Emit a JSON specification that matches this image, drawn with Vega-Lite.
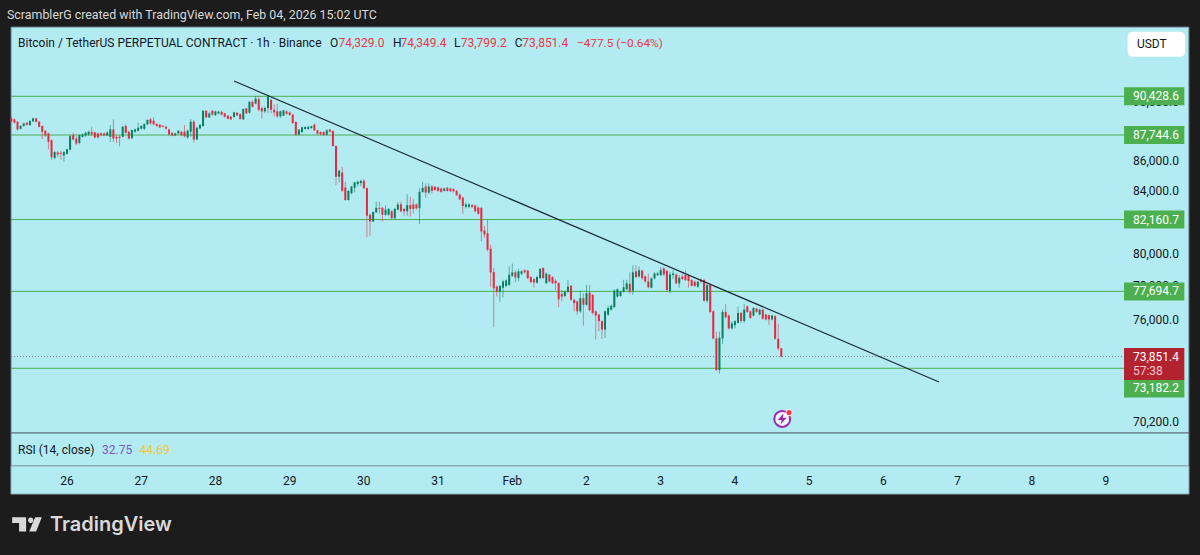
{
  "$schema": "https://vega.github.io/schema/vega-lite/v6.json",
  "description": "BTCUSDT perpetual 1h candles with hand drawn levels and a falling trendline",
  "background": "#1c1c1c",
  "padding": 0,
  "spacing": 0,
  "bounds": "flush",
  "data": {"values": [{}]},
  "datasets": {
    "candles": [
      {"t":"2026-01-25T06:00Z","o":88888,"h":88957,"l":88589,"c":88681},
      {"t":"2026-01-25T07:00Z","o":88819,"h":88865,"l":88543,"c":88589},
      {"t":"2026-01-25T08:00Z","o":88658,"h":88704,"l":88037,"c":88129},
      {"t":"2026-01-25T09:00Z","o":88175,"h":88428,"l":88129,"c":88359},
      {"t":"2026-01-25T10:00Z","o":88359,"h":88589,"l":88313,"c":88543},
      {"t":"2026-01-25T11:00Z","o":88589,"h":88635,"l":88382,"c":88451},
      {"t":"2026-01-25T12:00Z","o":88428,"h":88773,"l":88382,"c":88704},
      {"t":"2026-01-25T13:00Z","o":88681,"h":88934,"l":88635,"c":88888},
      {"t":"2026-01-25T14:00Z","o":88888,"h":88934,"l":88589,"c":88658},
      {"t":"2026-01-25T15:00Z","o":88658,"h":88704,"l":88267,"c":88313},
      {"t":"2026-01-25T16:00Z","o":88359,"h":88405,"l":87462,"c":87968},
      {"t":"2026-01-25T17:00Z","o":88037,"h":88083,"l":87623,"c":87738},
      {"t":"2026-01-25T18:00Z","o":87853,"h":87899,"l":86772,"c":87278},
      {"t":"2026-01-25T19:00Z","o":87393,"h":87439,"l":86059,"c":86243},
      {"t":"2026-01-25T20:00Z","o":86197,"h":86657,"l":86105,"c":86588},
      {"t":"2026-01-25T21:00Z","o":86565,"h":86657,"l":86243,"c":86427},
      {"t":"2026-01-25T22:00Z","o":86542,"h":86657,"l":86082,"c":86473},
      {"t":"2026-01-25T23:00Z","o":86358,"h":86657,"l":85944,"c":86588},
      {"t":"2026-01-26T00:00Z","o":86473,"h":86818,"l":86427,"c":86772},
      {"t":"2026-01-26T01:00Z","o":86749,"h":87738,"l":86703,"c":87669},
      {"t":"2026-01-26T02:00Z","o":87738,"h":87899,"l":87393,"c":87439},
      {"t":"2026-01-26T03:00Z","o":87508,"h":87669,"l":87048,"c":87163},
      {"t":"2026-01-26T04:00Z","o":87209,"h":87784,"l":87117,"c":87738},
      {"t":"2026-01-26T05:00Z","o":87623,"h":87853,"l":87554,"c":87784},
      {"t":"2026-01-26T06:00Z","o":87715,"h":87968,"l":87623,"c":87899},
      {"t":"2026-01-26T07:00Z","o":87784,"h":88037,"l":87692,"c":87968},
      {"t":"2026-01-26T08:00Z","o":87945,"h":88313,"l":87715,"c":87807},
      {"t":"2026-01-26T09:00Z","o":87922,"h":87968,"l":87508,"c":87577},
      {"t":"2026-01-26T10:00Z","o":87853,"h":87899,"l":87508,"c":87577},
      {"t":"2026-01-26T11:00Z","o":87853,"h":87922,"l":87669,"c":87738},
      {"t":"2026-01-26T12:00Z","o":87853,"h":87922,"l":87669,"c":87715},
      {"t":"2026-01-26T13:00Z","o":87715,"h":87991,"l":87669,"c":87922},
      {"t":"2026-01-26T14:00Z","o":87623,"h":88428,"l":87278,"c":88129},
      {"t":"2026-01-26T15:00Z","o":88129,"h":88819,"l":87278,"c":87508},
      {"t":"2026-01-26T16:00Z","o":87623,"h":87738,"l":87209,"c":87508},
      {"t":"2026-01-26T17:00Z","o":87623,"h":87738,"l":86979,"c":87554},
      {"t":"2026-01-26T18:00Z","o":87623,"h":88382,"l":87577,"c":88313},
      {"t":"2026-01-26T19:00Z","o":88359,"h":88474,"l":87853,"c":87899},
      {"t":"2026-01-26T20:00Z","o":87968,"h":88037,"l":87439,"c":87508},
      {"t":"2026-01-26T21:00Z","o":87531,"h":88129,"l":87462,"c":88083},
      {"t":"2026-01-26T22:00Z","o":87968,"h":88198,"l":87899,"c":88129},
      {"t":"2026-01-26T23:00Z","o":88037,"h":88589,"l":87968,"c":88244},
      {"t":"2026-01-27T00:00Z","o":88175,"h":88428,"l":88129,"c":88359},
      {"t":"2026-01-27T01:00Z","o":88175,"h":88543,"l":88083,"c":88497},
      {"t":"2026-01-27T02:00Z","o":88474,"h":88819,"l":88428,"c":88773},
      {"t":"2026-01-27T03:00Z","o":88819,"h":88934,"l":88474,"c":88543},
      {"t":"2026-01-27T04:00Z","o":88727,"h":88957,"l":88428,"c":88474},
      {"t":"2026-01-27T05:00Z","o":88497,"h":88543,"l":88313,"c":88359},
      {"t":"2026-01-27T06:00Z","o":88451,"h":88497,"l":88221,"c":88267},
      {"t":"2026-01-27T07:00Z","o":88382,"h":88428,"l":88267,"c":88313},
      {"t":"2026-01-27T08:00Z","o":88313,"h":88359,"l":88129,"c":88175},
      {"t":"2026-01-27T09:00Z","o":88129,"h":88175,"l":87715,"c":87784},
      {"t":"2026-01-27T10:00Z","o":87899,"h":87945,"l":87669,"c":87715},
      {"t":"2026-01-27T11:00Z","o":87715,"h":87899,"l":87669,"c":87853},
      {"t":"2026-01-27T12:00Z","o":87853,"h":88083,"l":87784,"c":88037},
      {"t":"2026-01-27T13:00Z","o":87968,"h":88014,"l":87669,"c":87738},
      {"t":"2026-01-27T14:00Z","o":87968,"h":88428,"l":87577,"c":87669},
      {"t":"2026-01-27T15:00Z","o":87577,"h":88129,"l":87485,"c":88037},
      {"t":"2026-01-27T16:00Z","o":87968,"h":88842,"l":87623,"c":88658},
      {"t":"2026-01-27T17:00Z","o":88658,"h":88773,"l":87232,"c":87439},
      {"t":"2026-01-27T18:00Z","o":87439,"h":88313,"l":87393,"c":88244},
      {"t":"2026-01-27T19:00Z","o":88198,"h":88497,"l":88129,"c":88428},
      {"t":"2026-01-27T20:00Z","o":88359,"h":89463,"l":88313,"c":89417},
      {"t":"2026-01-27T21:00Z","o":89417,"h":89463,"l":88911,"c":88957},
      {"t":"2026-01-27T22:00Z","o":88957,"h":89302,"l":88911,"c":89233},
      {"t":"2026-01-27T23:00Z","o":89417,"h":89463,"l":89072,"c":89141},
      {"t":"2026-01-28T00:00Z","o":89118,"h":89417,"l":89049,"c":89371},
      {"t":"2026-01-28T01:00Z","o":89233,"h":89417,"l":89164,"c":89348},
      {"t":"2026-01-28T02:00Z","o":89348,"h":89417,"l":89095,"c":89141},
      {"t":"2026-01-28T03:00Z","o":89233,"h":89279,"l":88957,"c":89003},
      {"t":"2026-01-28T04:00Z","o":89072,"h":89118,"l":88819,"c":88865},
      {"t":"2026-01-28T05:00Z","o":89003,"h":89049,"l":88773,"c":88819},
      {"t":"2026-01-28T06:00Z","o":88980,"h":89348,"l":88934,"c":89302},
      {"t":"2026-01-28T07:00Z","o":89279,"h":89325,"l":89049,"c":89095},
      {"t":"2026-01-28T08:00Z","o":89187,"h":89233,"l":88796,"c":88842},
      {"t":"2026-01-28T09:00Z","o":88819,"h":89578,"l":88773,"c":89532},
      {"t":"2026-01-28T10:00Z","o":89578,"h":89624,"l":89187,"c":89233},
      {"t":"2026-01-28T11:00Z","o":89279,"h":90084,"l":89233,"c":90038},
      {"t":"2026-01-28T12:00Z","o":90038,"h":90153,"l":89647,"c":89693},
      {"t":"2026-01-28T13:00Z","o":89923,"h":90452,"l":89877,"c":90268},
      {"t":"2026-01-28T14:00Z","o":90222,"h":90405,"l":89373,"c":89488},
      {"t":"2026-01-28T15:00Z","o":89602,"h":89717,"l":88868,"c":89373},
      {"t":"2026-01-28T16:00Z","o":89373,"h":89717,"l":89258,"c":89602},
      {"t":"2026-01-28T17:00Z","o":89602,"h":90520,"l":89258,"c":90405},
      {"t":"2026-01-28T18:00Z","o":90176,"h":90268,"l":89258,"c":89488},
      {"t":"2026-01-28T19:00Z","o":89488,"h":89832,"l":89029,"c":89304},
      {"t":"2026-01-28T20:00Z","o":89373,"h":89900,"l":88937,"c":89029},
      {"t":"2026-01-28T21:00Z","o":89029,"h":89442,"l":88914,"c":89373},
      {"t":"2026-01-28T22:00Z","o":89075,"h":89488,"l":89029,"c":89442},
      {"t":"2026-01-28T23:00Z","o":89373,"h":89442,"l":89143,"c":89212},
      {"t":"2026-01-29T00:00Z","o":89304,"h":89373,"l":89075,"c":89120},
      {"t":"2026-01-29T01:00Z","o":89143,"h":89212,"l":88501,"c":88570},
      {"t":"2026-01-29T02:00Z","o":88639,"h":88685,"l":87700,"c":87767},
      {"t":"2026-01-29T03:00Z","o":87767,"h":88157,"l":87722,"c":88111},
      {"t":"2026-01-29T04:00Z","o":87950,"h":88318,"l":87882,"c":88272},
      {"t":"2026-01-29T05:00Z","o":88157,"h":88341,"l":88111,"c":88295},
      {"t":"2026-01-29T06:00Z","o":88157,"h":88387,"l":88111,"c":88295},
      {"t":"2026-01-29T07:00Z","o":88226,"h":88387,"l":88157,"c":88341},
      {"t":"2026-01-29T08:00Z","o":88455,"h":88524,"l":88019,"c":88065},
      {"t":"2026-01-29T09:00Z","o":88065,"h":88111,"l":87767,"c":87836},
      {"t":"2026-01-29T10:00Z","o":87950,"h":87996,"l":87722,"c":87790},
      {"t":"2026-01-29T11:00Z","o":87950,"h":87996,"l":87700,"c":87744},
      {"t":"2026-01-29T12:00Z","o":87767,"h":88157,"l":87700,"c":88065},
      {"t":"2026-01-29T13:00Z","o":88111,"h":88157,"l":87927,"c":87974},
      {"t":"2026-01-29T14:00Z","o":88019,"h":88065,"l":86950,"c":86994},
      {"t":"2026-01-29T15:00Z","o":86994,"h":87038,"l":84389,"c":84941},
      {"t":"2026-01-29T16:00Z","o":84941,"h":85405,"l":84566,"c":85338},
      {"t":"2026-01-29T17:00Z","o":85228,"h":85603,"l":83970,"c":84014},
      {"t":"2026-01-29T18:00Z","o":84235,"h":84610,"l":83374,"c":83418},
      {"t":"2026-01-29T19:00Z","o":83418,"h":84058,"l":83374,"c":84014},
      {"t":"2026-01-29T20:00Z","o":83860,"h":84345,"l":83793,"c":84301},
      {"t":"2026-01-29T21:00Z","o":84213,"h":84610,"l":83904,"c":84566},
      {"t":"2026-01-29T22:00Z","o":84456,"h":84676,"l":84301,"c":84610},
      {"t":"2026-01-29T23:00Z","o":84522,"h":84743,"l":84345,"c":84676},
      {"t":"2026-01-30T00:00Z","o":84676,"h":84786,"l":84125,"c":84191},
      {"t":"2026-01-30T01:00Z","o":84191,"h":84235,"l":81047,"c":82403},
      {"t":"2026-01-30T02:00Z","o":82469,"h":82535,"l":81131,"c":82034},
      {"t":"2026-01-30T03:00Z","o":82034,"h":82690,"l":81992,"c":82646},
      {"t":"2026-01-30T04:00Z","o":82623,"h":83308,"l":82579,"c":82910},
      {"t":"2026-01-30T05:00Z","o":82910,"h":83308,"l":82535,"c":82844},
      {"t":"2026-01-30T06:00Z","o":82910,"h":82976,"l":82034,"c":82469},
      {"t":"2026-01-30T07:00Z","o":82469,"h":83087,"l":82403,"c":82800},
      {"t":"2026-01-30T08:00Z","o":82469,"h":82910,"l":82403,"c":82844},
      {"t":"2026-01-30T09:00Z","o":82690,"h":82756,"l":82139,"c":82248},
      {"t":"2026-01-30T10:00Z","o":82248,"h":82910,"l":82182,"c":82844},
      {"t":"2026-01-30T11:00Z","o":82800,"h":83286,"l":82734,"c":83131},
      {"t":"2026-01-30T12:00Z","o":83131,"h":83308,"l":82623,"c":82690},
      {"t":"2026-01-30T13:00Z","o":82844,"h":82910,"l":82403,"c":82690},
      {"t":"2026-01-30T14:00Z","o":82690,"h":83793,"l":82403,"c":83087},
      {"t":"2026-01-30T15:00Z","o":83087,"h":83639,"l":82359,"c":82844},
      {"t":"2026-01-30T16:00Z","o":83131,"h":83462,"l":82535,"c":82844},
      {"t":"2026-01-30T17:00Z","o":83131,"h":83197,"l":82800,"c":82888},
      {"t":"2026-01-30T18:00Z","o":82888,"h":84191,"l":81866,"c":83948},
      {"t":"2026-01-30T19:00Z","o":83948,"h":84610,"l":83904,"c":84213},
      {"t":"2026-01-30T20:00Z","o":84301,"h":84500,"l":83573,"c":83904},
      {"t":"2026-01-30T21:00Z","o":83904,"h":84500,"l":83793,"c":84301},
      {"t":"2026-01-30T22:00Z","o":84301,"h":84389,"l":83860,"c":84014},
      {"t":"2026-01-30T23:00Z","o":84279,"h":84345,"l":84014,"c":84080},
      {"t":"2026-01-31T00:00Z","o":84235,"h":84301,"l":83948,"c":84014},
      {"t":"2026-01-31T01:00Z","o":84169,"h":84235,"l":83904,"c":83948},
      {"t":"2026-01-31T02:00Z","o":84014,"h":84235,"l":83970,"c":84169},
      {"t":"2026-01-31T03:00Z","o":84213,"h":84279,"l":83948,"c":84014},
      {"t":"2026-01-31T04:00Z","o":84169,"h":84213,"l":83948,"c":83992},
      {"t":"2026-01-31T05:00Z","o":84125,"h":84191,"l":83904,"c":83992},
      {"t":"2026-01-31T06:00Z","o":84014,"h":84080,"l":83683,"c":83727},
      {"t":"2026-01-31T07:00Z","o":83771,"h":83837,"l":83418,"c":83462},
      {"t":"2026-01-31T08:00Z","o":83573,"h":83639,"l":82535,"c":83021},
      {"t":"2026-01-31T09:00Z","o":82977,"h":83264,"l":82866,"c":83131},
      {"t":"2026-01-31T10:00Z","o":82977,"h":83220,"l":82888,"c":83131},
      {"t":"2026-01-31T11:00Z","o":83087,"h":83153,"l":82888,"c":82977},
      {"t":"2026-01-31T12:00Z","o":83065,"h":83131,"l":82623,"c":82690},
      {"t":"2026-01-31T13:00Z","o":82933,"h":82999,"l":82469,"c":82535},
      {"t":"2026-01-31T14:00Z","o":82910,"h":82976,"l":80774,"c":81404},
      {"t":"2026-01-31T15:00Z","o":81467,"h":81761,"l":80984,"c":81215},
      {"t":"2026-01-31T16:00Z","o":81292,"h":82160,"l":80155,"c":80258},
      {"t":"2026-01-31T17:00Z","o":80320,"h":80568,"l":77943,"c":78853},
      {"t":"2026-01-31T18:00Z","o":78873,"h":79122,"l":75559,"c":77881},
      {"t":"2026-01-31T19:00Z","o":77984,"h":78046,"l":77381,"c":77675},
      {"t":"2026-01-31T20:00Z","o":77675,"h":78087,"l":77048,"c":78025},
      {"t":"2026-01-31T21:00Z","o":77922,"h":78398,"l":77323,"c":78295},
      {"t":"2026-01-31T22:00Z","o":78026,"h":78440,"l":77943,"c":78357},
      {"t":"2026-01-31T23:00Z","o":78088,"h":79225,"l":78026,"c":78708},
      {"t":"2026-02-01T00:00Z","o":78646,"h":79390,"l":78563,"c":78853},
      {"t":"2026-02-01T01:00Z","o":78853,"h":78977,"l":78233,"c":78543},
      {"t":"2026-02-01T02:00Z","o":78501,"h":79060,"l":78295,"c":78915},
      {"t":"2026-02-01T03:00Z","o":78770,"h":78977,"l":78687,"c":78915},
      {"t":"2026-02-01T04:00Z","o":78977,"h":79039,"l":78770,"c":78853},
      {"t":"2026-02-01T05:00Z","o":78956,"h":79018,"l":78439,"c":78501},
      {"t":"2026-02-01T06:00Z","o":78563,"h":78625,"l":78191,"c":78253},
      {"t":"2026-02-01T07:00Z","o":78439,"h":78501,"l":77922,"c":78232},
      {"t":"2026-02-01T08:00Z","o":78232,"h":78646,"l":78150,"c":78563},
      {"t":"2026-02-01T09:00Z","o":78501,"h":79122,"l":78439,"c":79060},
      {"t":"2026-02-01T10:00Z","o":79122,"h":79184,"l":78439,"c":78501},
      {"t":"2026-02-01T11:00Z","o":78191,"h":78853,"l":78129,"c":78770},
      {"t":"2026-02-01T12:00Z","o":78708,"h":78770,"l":78232,"c":78295},
      {"t":"2026-02-01T13:00Z","o":78563,"h":78625,"l":78129,"c":78191},
      {"t":"2026-02-01T14:00Z","o":78336,"h":78440,"l":77778,"c":78191},
      {"t":"2026-02-01T15:00Z","o":78191,"h":78253,"l":76754,"c":77225},
      {"t":"2026-02-01T16:00Z","o":77538,"h":77778,"l":77087,"c":77381},
      {"t":"2026-02-01T17:00Z","o":77420,"h":77736,"l":77342,"c":77675},
      {"t":"2026-02-01T18:00Z","o":77675,"h":78398,"l":77577,"c":77984},
      {"t":"2026-02-01T19:00Z","o":78026,"h":78088,"l":77127,"c":77185},
      {"t":"2026-02-01T20:00Z","o":77185,"h":77244,"l":76499,"c":76989},
      {"t":"2026-02-01T21:00Z","o":77087,"h":77146,"l":76303,"c":76499},
      {"t":"2026-02-01T22:00Z","o":76499,"h":77736,"l":76401,"c":77283},
      {"t":"2026-02-01T23:00Z","o":77283,"h":77577,"l":75657,"c":76891},
      {"t":"2026-02-02T00:00Z","o":76891,"h":78088,"l":76833,"c":77577},
      {"t":"2026-02-02T01:00Z","o":77617,"h":78088,"l":76499,"c":76558},
      {"t":"2026-02-02T02:00Z","o":77479,"h":77538,"l":76303,"c":76401},
      {"t":"2026-02-02T03:00Z","o":76499,"h":76558,"l":74833,"c":76245},
      {"t":"2026-02-02T04:00Z","o":76303,"h":76362,"l":75323,"c":75911},
      {"t":"2026-02-02T05:00Z","o":75911,"h":75970,"l":74873,"c":75421},
      {"t":"2026-02-02T06:00Z","o":75421,"h":76558,"l":74931,"c":76499},
      {"t":"2026-02-02T07:00Z","o":76303,"h":76833,"l":76205,"c":76695},
      {"t":"2026-02-02T08:00Z","o":76597,"h":76891,"l":76539,"c":76833},
      {"t":"2026-02-02T09:00Z","o":76754,"h":77817,"l":76695,"c":77736},
      {"t":"2026-02-02T10:00Z","o":77381,"h":77881,"l":77323,"c":77819},
      {"t":"2026-02-02T11:00Z","o":77420,"h":77736,"l":77362,"c":77675},
      {"t":"2026-02-02T12:00Z","o":77675,"h":78398,"l":77617,"c":77943},
      {"t":"2026-02-02T13:00Z","o":77819,"h":78398,"l":77778,"c":78191},
      {"t":"2026-02-02T14:00Z","o":78150,"h":78853,"l":77538,"c":77675},
      {"t":"2026-02-02T15:00Z","o":77736,"h":79287,"l":77479,"c":78853},
      {"t":"2026-02-02T16:00Z","o":78915,"h":79287,"l":78501,"c":78563},
      {"t":"2026-02-02T17:00Z","o":78604,"h":79225,"l":78543,"c":78977},
      {"t":"2026-02-02T18:00Z","o":78956,"h":79018,"l":78398,"c":78501},
      {"t":"2026-02-02T19:00Z","o":78604,"h":78666,"l":78232,"c":78295},
      {"t":"2026-02-02T20:00Z","o":78295,"h":78770,"l":77881,"c":77943},
      {"t":"2026-02-02T21:00Z","o":77917,"h":78544,"l":77877,"c":78483},
      {"t":"2026-02-02T22:00Z","o":78483,"h":78847,"l":78422,"c":78786},
      {"t":"2026-02-02T23:00Z","o":78685,"h":78887,"l":78624,"c":78786},
      {"t":"2026-02-03T00:00Z","o":78685,"h":79190,"l":78624,"c":78988},
      {"t":"2026-02-03T01:00Z","o":79089,"h":79190,"l":78644,"c":78725},
      {"t":"2026-02-03T02:00Z","o":78947,"h":79008,"l":77675,"c":77776},
      {"t":"2026-02-03T03:00Z","o":77715,"h":78887,"l":77578,"c":78725},
      {"t":"2026-02-03T04:00Z","o":78685,"h":78988,"l":78442,"c":78786},
      {"t":"2026-02-03T05:00Z","o":78725,"h":78786,"l":78119,"c":78180},
      {"t":"2026-02-03T06:00Z","o":78180,"h":78685,"l":77917,"c":78523},
      {"t":"2026-02-03T07:00Z","o":78584,"h":78786,"l":78382,"c":78442},
      {"t":"2026-02-03T08:00Z","o":78685,"h":78988,"l":78321,"c":78382},
      {"t":"2026-02-03T09:00Z","o":78644,"h":78725,"l":77917,"c":78321},
      {"t":"2026-02-03T10:00Z","o":78382,"h":78442,"l":77978,"c":78038},
      {"t":"2026-02-03T11:00Z","o":78281,"h":78341,"l":77978,"c":78018},
      {"t":"2026-02-03T12:00Z","o":77978,"h":78341,"l":77917,"c":78281},
      {"t":"2026-02-03T13:00Z","o":78422,"h":78483,"l":78200,"c":78281},
      {"t":"2026-02-03T14:00Z","o":78382,"h":78442,"l":77089,"c":77128},
      {"t":"2026-02-03T15:00Z","o":77128,"h":78180,"l":76992,"c":78079},
      {"t":"2026-02-03T16:00Z","o":78079,"h":78180,"l":76405,"c":76464},
      {"t":"2026-02-03T17:00Z","o":76503,"h":76542,"l":74842,"c":74901},
      {"t":"2026-02-03T18:00Z","o":74901,"h":75292,"l":73025,"c":73084},
      {"t":"2026-02-03T19:00Z","o":73084,"h":75292,"l":72888,"c":74940},
      {"t":"2026-02-03T20:00Z","o":74901,"h":76601,"l":74588,"c":76464},
      {"t":"2026-02-03T21:00Z","o":76464,"h":76933,"l":76073,"c":76151},
      {"t":"2026-02-03T22:00Z","o":76249,"h":76308,"l":75428,"c":75487},
      {"t":"2026-02-03T23:00Z","o":75487,"h":75917,"l":75428,"c":75780},
      {"t":"2026-02-04T00:00Z","o":75682,"h":75976,"l":75487,"c":75917},
      {"t":"2026-02-04T01:00Z","o":75819,"h":76796,"l":75780,"c":76405},
      {"t":"2026-02-04T02:00Z","o":76405,"h":76464,"l":75819,"c":75917},
      {"t":"2026-02-04T03:00Z","o":75917,"h":76933,"l":75819,"c":76601},
      {"t":"2026-02-04T04:00Z","o":76796,"h":76855,"l":76405,"c":76464},
      {"t":"2026-02-04T05:00Z","o":76503,"h":76562,"l":76054,"c":76112},
      {"t":"2026-02-04T06:00Z","o":76249,"h":76757,"l":76190,"c":76698},
      {"t":"2026-02-04T07:00Z","o":76659,"h":76718,"l":76405,"c":76464},
      {"t":"2026-02-04T08:00Z","o":76308,"h":76659,"l":76249,"c":76601},
      {"t":"2026-02-04T09:00Z","o":76601,"h":76659,"l":75995,"c":76054},
      {"t":"2026-02-04T10:00Z","o":76308,"h":76366,"l":75956,"c":76015},
      {"t":"2026-02-04T11:00Z","o":76269,"h":76308,"l":75682,"c":76015},
      {"t":"2026-02-04T12:00Z","o":76015,"h":76308,"l":75956,"c":76249},
      {"t":"2026-02-04T13:00Z","o":76210,"h":76269,"l":74823,"c":74881},
      {"t":"2026-02-04T14:00Z","o":74881,"h":75761,"l":74217,"c":74315},
      {"t":"2026-02-04T15:00Z","o":74329,"h":74349.4,"l":73799.2,"c":73851.4}
    ],
    "levels": [
      {"level":90428.6},
      {"level":87744.6},
      {"level":82160.7},
      {"level":77694.7},
      {"level":73182.2}
    ],
    "tags": [
      {"label":"90,428.6","at":90428.6},
      {"label":"87,744.6","at":87744.6},
      {"label":"82,160.7","at":82160.7},
      {"label":"77,694.7","at":77694.7},
      {"label":"73,182.2","at":72041}
    ],
    "priceTicks": [
      {"label":"90,000.0","at":90000},
      {"label":"86,000.0","at":86000},
      {"label":"84,000.0","at":84000},
      {"label":"80,000.0","at":80000},
      {"label":"78,000.0","at":78000},
      {"label":"76,000.0","at":76000},
      {"label":"70,200.0","at":70200}
    ],
    "trend": [
      {"t":"2026-01-28T06:00Z","p":91511},
      {"t":"2026-02-06T18:00Z","p":72407}
    ],
    "days": [
      {"t":"2026-01-26T00:00Z","label":"26"},
      {"t":"2026-01-27T00:00Z","label":"27"},
      {"t":"2026-01-28T00:00Z","label":"28"},
      {"t":"2026-01-29T00:00Z","label":"29"},
      {"t":"2026-01-30T00:00Z","label":"30"},
      {"t":"2026-01-31T00:00Z","label":"31"},
      {"t":"2026-02-01T00:00Z","label":"Feb"},
      {"t":"2026-02-02T00:00Z","label":"2"},
      {"t":"2026-02-03T00:00Z","label":"3"},
      {"t":"2026-02-04T00:00Z","label":"4"},
      {"t":"2026-02-05T00:00Z","label":"5"},
      {"t":"2026-02-06T00:00Z","label":"6"},
      {"t":"2026-02-07T00:00Z","label":"7"},
      {"t":"2026-02-08T00:00Z","label":"8"},
      {"t":"2026-02-09T00:00Z","label":"9"}
    ]
  },
  "vconcat": [
    {
      "width": 1200,
      "height": 27,
      "layer": [
        {
          "mark": {"type": "text", "align": "left", "color": "#d8d8d8", "fontSize": 12.4},
          "encoding": {
            "x": {
              "datum": {"year":2026,"month":"jan","date":25,"hours":4,"minutes":36,"utc":true},
              "type": "temporal",
              "scale": {"domain": [{"year": 2026, "month": "jan", "date": 25, "hours": 2, "minutes": 20, "utc": true}, {"year": 2026, "month": "feb", "date": 10, "hours": 6, "minutes": 24, "utc": true}]}
            },
            "y": {"datum": 0.45, "type": "quantitative", "scale": {"domain": [0, 1]}},
            "text": {"value": "ScramblerG created with TradingView.com, Feb 04, 2026 15:02 UTC"}
          }
        }
      ]
    },
    {
      "width": 1200,
      "height": 406,
      "layer": [
        {
          "mark": {"type": "rect", "fill": "#b2ebf2", "stroke": "#5f737e", "strokeWidth": 1},
          "encoding": {
            "x": {
              "datum": {"year": 2026, "month": "jan", "date": 25, "hours": 5, "minutes": 53, "utc": true},
              "type": "temporal",
              "scale": {"domain": [{"year": 2026, "month": "jan", "date": 25, "hours": 2, "minutes": 20, "utc": true}, {"year": 2026, "month": "feb", "date": 10, "hours": 6, "minutes": 24, "utc": true}]}
            },
            "x2": {"datum": {"year": 2026, "month": "feb", "date": 10, "hours": 2, "minutes": 50, "utc": true}}
          }
        },
        {
          "data": {"name": "levels"},
          "mark": {"type": "rule", "color": "#4caf50", "strokeWidth": 1},
          "encoding": {
            "x": {"datum": {"year": 2026, "month": "jan", "date": 25, "hours": 5, "minutes": 53, "utc": true}, "type": "temporal"},
            "x2": {"datum": {"year": 2026, "month": "feb", "date": 9, "hours": 5, "minutes": 50, "utc": true}},
            "y": {
              "field": "level",
              "type": "quantitative",
              "scale": {"type": "log", "domain": [69589, 95438], "nice": false}
            }
          }
        },
        {
          "mark": {"type": "rule", "color": "#8f7d88", "strokeWidth": 1, "strokeDash": [1, 2]},
          "encoding": {
            "x": {"datum": {"year": 2026, "month": "jan", "date": 25, "hours": 5, "minutes": 53, "utc": true}, "type": "temporal"},
            "x2": {"datum": {"year": 2026, "month": "feb", "date": 9, "hours": 5, "minutes": 50, "utc": true}},
            "y": {"datum": 73851.4, "type": "quantitative"}
          }
        },
        {
          "data": {"name": "candles"},
          "mark": {"type": "rule", "strokeWidth": 1, "opacity": 0.55},
          "encoding": {
            "x": {"field": "t", "type": "temporal"},
            "y": {"field": "l", "type": "quantitative"},
            "y2": {"field": "h"},
            "color": {"condition": {"test": "datum.c >= datum.o", "value": "#087f5f"}, "value": "#e8293f"}
          }
        },
        {
          "data": {"name": "candles"},
          "mark": {"type": "rule", "strokeWidth": 2},
          "encoding": {
            "x": {"field": "t", "type": "temporal"},
            "y": {"field": "o", "type": "quantitative"},
            "y2": {"field": "c"},
            "color": {"condition": {"test": "datum.c >= datum.o", "value": "#087f5f"}, "value": "#e8293f"}
          }
        },
        {
          "data": {"name": "trend"},
          "mark": {"type": "line", "color": "#1b2a33", "strokeWidth": 1.2},
          "encoding": {
            "x": {"field": "t", "type": "temporal"},
            "y": {"field": "p", "type": "quantitative"}
          }
        },
        {
          "data": {"name": "priceTicks"},
          "mark": {"type": "text", "align": "left", "color": "#131722", "font": "Roboto", "fontSize": 12},
          "encoding": {
            "x": {"datum": {"year":2026,"month":"feb","date":9,"hours":8,"minutes":42,"utc":true}, "type": "temporal"},
            "y": {"field": "at", "type": "quantitative"},
            "text": {"field": "label"}
          }
        },
        {
          "data": {"name": "tags"},
          "mark": {"type": "rule", "color": "#4caf50", "strokeWidth": 18},
          "encoding": {
            "x": {"datum": {"year": 2026, "month": "feb", "date": 9, "hours": 5, "minutes": 50, "utc": true}, "type": "temporal"},
            "x2": {"datum": {"year": 2026, "month": "feb", "date": 10, "hours": 1, "minutes": 20, "utc": true}},
            "y": {"field": "at", "type": "quantitative"}
          }
        },
        {
          "mark": {"type": "rule", "color": "#b2222f", "strokeWidth": 32},
          "encoding": {
            "x": {"datum": {"year": 2026, "month": "feb", "date": 9, "hours": 5, "minutes": 50, "utc": true}, "type": "temporal"},
            "x2": {"datum": {"year": 2026, "month": "feb", "date": 10, "hours": 1, "minutes": 20, "utc": true}},
            "y": {"datum": 73426, "type": "quantitative"}
          }
        },
        {
          "data": {"name": "tags"},
          "mark": {"type": "text", "align": "left", "color": "#ffffff", "font": "Roboto", "fontSize": 12},
          "encoding": {
            "x": {"datum": {"year":2026,"month":"feb","date":9,"hours":8,"minutes":42,"utc":true}, "type": "temporal"},
            "y": {"field": "at", "type": "quantitative"},
            "text": {"field": "label"}
          }
        },
        {
          "mark": {"type": "text", "align": "left", "color": "#ffffff", "font": "Roboto", "fontSize": 12},
          "encoding": {
            "x": {"datum": {"year":2026,"month":"feb","date":9,"hours":8,"minutes":42,"utc":true}, "type": "temporal"},
            "y": {"datum": 73851.4, "type": "quantitative"},
            "text": {"value": "73,851.4"}
          }
        },
        {
          "mark": {"type": "text", "align": "left", "color": "#f3c4ca", "font": "Roboto", "fontSize": 12},
          "encoding": {
            "x": {"datum": {"year":2026,"month":"feb","date":9,"hours":8,"minutes":42,"utc":true}, "type": "temporal"},
            "y": {"datum": 73029, "type": "quantitative"},
            "text": {"value": "57:38"}
          }
        },
        {
          "mark": {"type": "rect", "fill": "#ffffff", "cornerRadius": 5},
          "encoding": {
            "x": {"datum": {"year": 2026, "month": "feb", "date": 9, "hours": 7, "utc": true}, "type": "temporal"},
            "x2": {"datum": {"year": 2026, "month": "feb", "date": 10, "hours": 1, "minutes": 36, "utc": true}},
            "y": {"datum": 95089, "type": "quantitative"},
            "y2": {"datum": 93258}
          }
        },
        {
          "mark": {"type": "text", "align": "left", "color": "#131722", "font": "Roboto", "fontSize": 12},
          "encoding": {
            "x": {"datum": {"year":2026,"month":"feb","date":9,"hours":10,"utc":true}, "type": "temporal"},
            "y": {"datum": 94183, "type": "quantitative"},
            "text": {"value": "USDT"}
          }
        },
        {
          "mark": {"type": "text", "align": "left", "color": "#131722", "font": "Roboto", "fontSize": 12},
          "encoding": {
            "x": {"datum": {"year":2026,"month":"jan","date":25,"hours":8,"minutes":9,"utc":true}, "type": "temporal"},
            "y": {"datum": 94257, "type": "quantitative"},
            "text": {"value": "Bitcoin / TetherUS PERPETUAL CONTRACT · 1h · Binance"}
          }
        },
        {
          "mark": {"type": "text", "align": "left", "color": "#131722", "font": "Roboto", "fontSize": 12},
          "encoding": {
            "x": {"datum": {"year":2026,"month":"jan","date":29,"hours":13,"minutes":3,"utc":true}, "type": "temporal"},
            "y": {"datum": 94257, "type": "quantitative"},
            "text": {"value": "O"}
          }
        },
        {
          "mark": {"type": "text", "align": "left", "color": "#f23645", "font": "Roboto", "fontSize": 12},
          "encoding": {
            "x": {"datum": {"year":2026,"month":"jan","date":29,"hours":15,"minutes":46,"utc":true}, "type": "temporal"},
            "y": {"datum": 94257, "type": "quantitative"},
            "text": {"value": "74,329.0"}
          }
        },
        {
          "mark": {"type": "text", "align": "left", "color": "#131722", "font": "Roboto", "fontSize": 12},
          "encoding": {
            "x": {"datum": {"year":2026,"month":"jan","date":30,"hours":9,"minutes":25,"utc":true}, "type": "temporal"},
            "y": {"datum": 94257, "type": "quantitative"},
            "text": {"value": "H"}
          }
        },
        {
          "mark": {"type": "text", "align": "left", "color": "#f23645", "font": "Roboto", "fontSize": 12},
          "encoding": {
            "x": {"datum": {"year":2026,"month":"jan","date":30,"hours":11,"minutes":49,"utc":true}, "type": "temporal"},
            "y": {"datum": 94257, "type": "quantitative"},
            "text": {"value": "74,349.4"}
          }
        },
        {
          "mark": {"type": "text", "align": "left", "color": "#131722", "font": "Roboto", "fontSize": 12},
          "encoding": {
            "x": {"datum": {"year":2026,"month":"jan","date":31,"hours":5,"minutes":9,"utc":true}, "type": "temporal"},
            "y": {"datum": 94257, "type": "quantitative"},
            "text": {"value": "L"}
          }
        },
        {
          "mark": {"type": "text", "align": "left", "color": "#f23645", "font": "Roboto", "fontSize": 12},
          "encoding": {
            "x": {"datum": {"year":2026,"month":"jan","date":31,"hours":7,"minutes":19,"utc":true}, "type": "temporal"},
            "y": {"datum": 94257, "type": "quantitative"},
            "text": {"value": "73,799.2"}
          }
        },
        {
          "mark": {"type": "text", "align": "left", "color": "#131722", "font": "Roboto", "fontSize": 12},
          "encoding": {
            "x": {"datum": {"year":2026,"month":"feb","date":1,"hours":0,"minutes":46,"utc":true}, "type": "temporal"},
            "y": {"datum": 94257, "type": "quantitative"},
            "text": {"value": "C"}
          }
        },
        {
          "mark": {"type": "text", "align": "left", "color": "#f23645", "font": "Roboto", "fontSize": 12},
          "encoding": {
            "x": {"datum": {"year":2026,"month":"feb","date":1,"hours":3,"minutes":14,"utc":true}, "type": "temporal"},
            "y": {"datum": 94257, "type": "quantitative"},
            "text": {"value": "73,851.4"}
          }
        },
        {
          "mark": {"type": "text", "align": "left", "color": "#f23645", "font": "Roboto", "fontSize": 11.8},
          "encoding": {
            "x": {"datum": {"year":2026,"month":"feb","date":1,"hours":20,"minutes":55,"utc":true}, "type": "temporal"},
            "y": {"datum": 94257, "type": "quantitative"},
            "text": {"value": "−477.5 (−0.64%)"}
          }
        },
        {
          "mark": {"type": "point", "shape": "circle", "filled": true, "fill": "#f4fbfd", "stroke": "#9c27b0", "strokeWidth": 2, "size": 254, "opacity": 1},
          "encoding": {
            "x": {"datum": {"year":2026,"month":"feb","date":4,"hours":15,"minutes":18,"utc":true}, "type": "temporal"},
            "y": {"datum": 70355, "type": "quantitative"}
          }
        },
        {
          "mark": {"type": "point", "shape": "M.1 -.5L-.4 .1H-.05L-.15 .5L.4 -.1H.05Z", "filled": true, "fill": "#9c27b0", "size": 484, "opacity": 1},
          "encoding": {
            "x": {"datum": {"year":2026,"month":"feb","date":4,"hours":15,"minutes":18,"utc":true}, "type": "temporal"},
            "y": {"datum": 70355, "type": "quantitative"}
          }
        },
        {
          "mark": {"type": "point", "shape": "circle", "filled": true, "fill": "#f23645", "stroke": "#ffffff", "strokeWidth": 1, "size": 40, "opacity": 1},
          "encoding": {
            "x": {"datum": {"year":2026,"month":"feb","date":4,"hours":17,"minutes":30,"utc":true}, "type": "temporal"},
            "y": {"datum": 70700, "type": "quantitative"}
          }
        }
      ]
    },
    {
      "width": 1200,
      "height": 33,
      "layer": [
        {
          "mark": {"type": "rect", "fill": "#b2ebf2", "stroke": "#5f737e", "strokeWidth": 1},
          "encoding": {
            "x": {
              "datum": {"year": 2026, "month": "jan", "date": 25, "hours": 5, "minutes": 53, "utc": true},
              "type": "temporal",
              "scale": {"domain": [{"year": 2026, "month": "jan", "date": 25, "hours": 2, "minutes": 20, "utc": true}, {"year": 2026, "month": "feb", "date": 10, "hours": 6, "minutes": 24, "utc": true}]}
            },
            "x2": {"datum": {"year": 2026, "month": "feb", "date": 10, "hours": 2, "minutes": 50, "utc": true}}
          }
        },
        {
          "mark": {"type": "text", "align": "left", "color": "#131722", "font": "Roboto", "fontSize": 12},
          "encoding": {
            "x": {"datum": {"year":2026,"month":"jan","date":25,"hours":8,"minutes":9,"utc":true}, "type": "temporal"},
            "y": {"datum": 0.5, "type": "quantitative", "scale": {"domain": [0, 1]}},
            "text": {"value": "RSI (14, close)"}
          }
        },
        {
          "mark": {"type": "text", "align": "left", "color": "#7e57c2", "font": "Roboto", "fontSize": 12},
          "encoding": {
            "x": {"datum": {"year":2026,"month":"jan","date":26,"hours":11,"minutes":19,"utc":true}, "type": "temporal"},
            "y": {"datum": 0.5, "type": "quantitative"},
            "text": {"value": "32.75"}
          }
        },
        {
          "mark": {"type": "text", "align": "left", "color": "#f5c72e", "font": "Roboto", "fontSize": 12},
          "encoding": {
            "x": {"datum": {"year":2026,"month":"jan","date":26,"hours":23,"minutes":27,"utc":true}, "type": "temporal"},
            "y": {"datum": 0.5, "type": "quantitative"},
            "text": {"value": "44.69"}
          }
        }
      ]
    },
    {
      "width": 1200,
      "height": 28,
      "layer": [
        {
          "mark": {"type": "rect", "fill": "#b2ebf2", "stroke": "#8fa9b3", "strokeWidth": 1},
          "encoding": {
            "x": {
              "datum": {"year": 2026, "month": "jan", "date": 25, "hours": 5, "minutes": 53, "utc": true},
              "type": "temporal",
              "scale": {"domain": [{"year": 2026, "month": "jan", "date": 25, "hours": 2, "minutes": 20, "utc": true}, {"year": 2026, "month": "feb", "date": 10, "hours": 6, "minutes": 24, "utc": true}]}
            },
            "x2": {"datum": {"year": 2026, "month": "feb", "date": 10, "hours": 2, "minutes": 50, "utc": true}}
          }
        },
        {
          "data": {"name": "days"},
          "mark": {"type": "text", "color": "#131722", "font": "Roboto", "fontSize": 12},
          "encoding": {
            "x": {"field": "t", "type": "temporal"},
            "y": {"datum": 0.47, "type": "quantitative", "scale": {"domain": [0, 1]}},
            "text": {"field": "label"}
          }
        }
      ]
    },
    {
      "width": 1200,
      "height": 61,
      "layer": [
        {
          "mark": {"type": "point", "shape": "M-.5 -.24H-.033V.237H-.267V-.05H-.5ZM.03 -.14A.09 .09 0 1 1 .21 -.14A.09 .09 0 1 1 .03 -.14ZM.27 -.24H.49L.3 .237H.07Z", "filled": true, "fill": "#d9d9d9", "size": 3600, "opacity": 1},
          "encoding": {
            "x": {
              "datum": {"year":2026,"month":"jan","date":25,"hours":11,"minutes":6,"utc":true},
              "type": "temporal",
              "scale": {"domain": [{"year": 2026, "month": "jan", "date": 25, "hours": 2, "minutes": 20, "utc": true}, {"year": 2026, "month": "feb", "date": 10, "hours": 6, "minutes": 24, "utc": true}]}
            },
            "y": {"datum": 0.5, "type": "quantitative", "scale": {"domain": [0, 1]}}
          }
        },
        {
          "mark": {"type": "text", "align": "left", "color": "#d9d9d9", "font": "Inter", "fontSize": 20, "fontWeight": 600},
          "encoding": {
            "x": {"datum": {"year":2026,"month":"jan","date":25,"hours":18,"minutes":30,"utc":true}, "type": "temporal"},
            "y": {"datum": 0.5, "type": "quantitative"},
            "text": {"value": "TradingView"}
          }
        }
      ]
    }
  ],
  "config": {
    "view": {"stroke": null},
    "axis": {"disable": true},
    "text": {"baseline": "middle"},
    "font": "Roboto"
  }
}
